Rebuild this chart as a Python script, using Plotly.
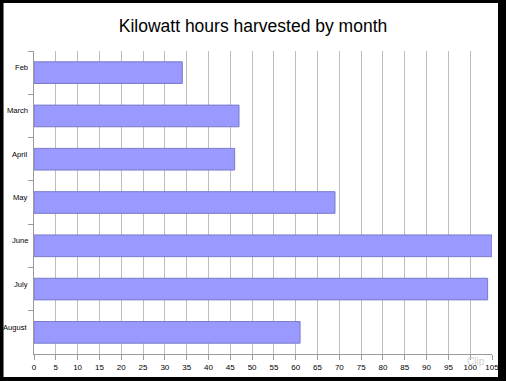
import plotly.graph_objects as go

months = ["Feb", "March", "April", "May", "June", "July", "August"]
kwh = [34, 47, 46, 69, 105, 104, 61]
x_ticks = list(range(0, 106, 5))

W, H = 506, 381
ml, mr, mt, mb = 33.5, 14, 51, 27
pw, ph = W - ml - mr, H - mt - mb

def px_to_paper_x(px):
    return (px - ml) / pw

def py_to_paper_y(py):
    return (H - mb - py) / ph

FONT = "Liberation Sans, Arial"

fig = go.Figure(go.Bar(
    x=kwh, y=months, orientation="h",
    marker=dict(color="#9999FF", line=dict(color="#7a7acc", width=1)),
    width=0.5,
))

annotations = [dict(text=m, xref="paper", yref="y", x=0, y=m, xanchor="right",
                    xshift=-4, yshift=5, showarrow=False,
                    font=dict(family=FONT, size=7.6, color="black"))
               for m in months]
annotations.append(dict(text="Clip", xref="paper", yref="paper",
                        x=px_to_paper_x(487), y=py_to_paper_y(369), showarrow=False,
                        font=dict(family=FONT, size=10, color="#d0d0d0")))

fig.update_layout(
    width=W, height=H,
    margin=dict(l=ml, r=mr, t=mt, b=mb, pad=0, autoexpand=False),
    paper_bgcolor="black",
    plot_bgcolor="white",
    showlegend=False,
    title=dict(text="Kilowatt hours harvested by month", x=0.5, xanchor="center",
               y=1 - 26 / H, yanchor="middle",
               font=dict(family=FONT, size=17.5, color="black")),
    shapes=[dict(type="rect", xref="paper", yref="paper", layer="below",
                 x0=px_to_paper_x(3), x1=px_to_paper_x(498),
                 y0=py_to_paper_y(377), y1=py_to_paper_y(3),
                 fillcolor="white", line=dict(width=0))],
    annotations=annotations,
)

fig.update_xaxes(
    range=[0, 105], tickmode="array", tickvals=x_ticks, ticktext=[str(v) for v in x_ticks],
    showgrid=True, gridcolor="#bdbdbd", gridwidth=1,
    showline=True, linecolor="#9a9a9a", linewidth=1,
    ticks="outside", ticklen=5, tickcolor="#9a9a9a",
    tickfont=dict(family=FONT, size=8, color="black"),
    zeroline=False, automargin=False,
)
fig.update_yaxes(
    categoryorder="array", categoryarray=months, range=[6.5, -0.5],
    showgrid=False, showline=True, linecolor="#9a9a9a", linewidth=1,
    ticks="outside", ticklen=5, tickcolor="#9a9a9a", tickson="boundaries",
    showticklabels=False, automargin=False,
)

fig.write_html("out.html", config={"displayModeBar": False},
               post_script="document.body.style.margin='0';document.body.style.overflow='hidden';")
